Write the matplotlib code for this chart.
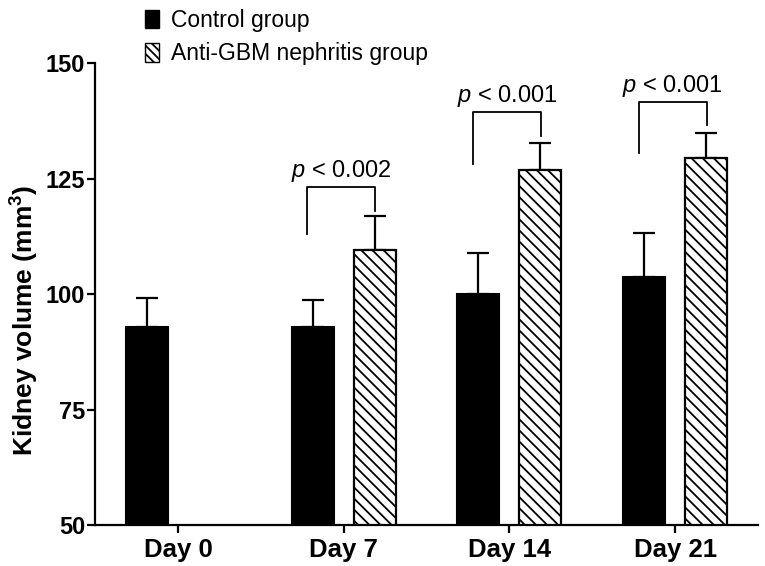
import numpy as np
import matplotlib
matplotlib.use('Agg')
import matplotlib.pyplot as plt
from matplotlib.patches import Patch

plt.rcParams['font.family'] = ['Liberation Sans', 'DejaVu Sans']
plt.rcParams['mathtext.fontset'] = 'custom'
plt.rcParams['mathtext.rm'] = 'Liberation Sans'
plt.rcParams['mathtext.it'] = 'Liberation Sans:italic'
plt.rcParams['mathtext.bf'] = 'Liberation Sans:bold'
plt.rcParams['hatch.linewidth'] = 1.3

# donnees
days = ['Day 0', 'Day 7', 'Day 14', 'Day 21']
control = [92.9, 92.9, 100.0, 103.7]
control_sd = [6.2, 5.9, 8.9, 9.5]
anti = [np.nan, 109.6, 126.8, 129.4]
anti_sd = [np.nan, 7.2, 5.9, 5.5]
pvals = ['', '0.002', '0.001', '0.001']
# crochets : bas gauche, haut, bas droite
br_left = [0, 112.9, 128.2, 130.6]
br_top = [0, 123.2, 139.4, 141.6]
br_right = [0, 118.0, 134.2, 136.6]

x = np.arange(len(days))
off = 0.187
w = 0.253

fig = plt.figure(figsize=(7.65, 5.66), dpi=100)
ax = fig.add_axes([0.1242, 0.0724, 0.8668, 0.8163])

ax.bar(x - off, control, w, color='black', edgecolor='black', linewidth=1.5, zorder=2)
ax.errorbar(x - off, control, yerr=[np.zeros(len(x)), control_sd], fmt='none',
            ecolor='black', elinewidth=1.6, capsize=8, capthick=1.6, zorder=1)
ax.bar(x + off, anti, w, color='white', edgecolor='black', hatch='\\\\\\',
       linewidth=1.6, zorder=2)
ax.errorbar(x + off, anti, yerr=[np.zeros(len(x)), anti_sd], fmt='none',
            ecolor='black', elinewidth=1.6, capsize=8, capthick=1.6, zorder=1)

for i in range(1, len(days)):
    xl = x[i] - 0.22
    xr = x[i] + 0.19
    ax.plot([xl, xl, xr, xr], [br_left[i], br_top[i], br_top[i], br_right[i]],
            color='black', lw=1.3, clip_on=False)
    ax.text((xl + xr) / 2, br_top[i] + 2.2, '$p$ < ' + pvals[i], ha='center',
            va='baseline', fontsize=17)

ax.set_xlim(-0.5, 3.5)
ax.set_ylim(50, 150)
ax.set_yticks([50, 75, 100, 125, 150])
ax.set_xticks(x)
ax.set_xticklabels(days)
for lab in ax.get_xticklabels():
    lab.set_fontweight('bold')
    lab.set_fontsize(18.5)
for lab in ax.get_yticklabels():
    lab.set_fontweight('bold')
    lab.set_fontsize(17)
ax.tick_params(width=1.6, length=6)
ax.tick_params(axis='y', pad=1)
ax.tick_params(axis='x', pad=3)
ax.spines['top'].set_visible(False)
ax.spines['right'].set_visible(False)
ax.spines['left'].set_linewidth(1.6)
ax.spines['bottom'].set_linewidth(1.6)
ax.set_ylabel('Kidney volume (mm$^\\mathbf{3}$)', fontsize=19, fontweight='bold')
ax.yaxis.set_label_coords(-0.082, 0.444)

handles = [Patch(facecolor='black', edgecolor='black', label='Control group'),
           Patch(facecolor='white', edgecolor='black', hatch='\\\\\\\\', label='Anti-GBM nephritis group')]
fig.legend(handles=handles, loc='upper left', bbox_to_anchor=(0.177, 1.0), frameon=False,
           fontsize=16.5, handlelength=0.65, handleheight=0.85, handletextpad=0.5,
           labelspacing=0.45, borderaxespad=0)

fig.savefig('out.png', dpi=100)
